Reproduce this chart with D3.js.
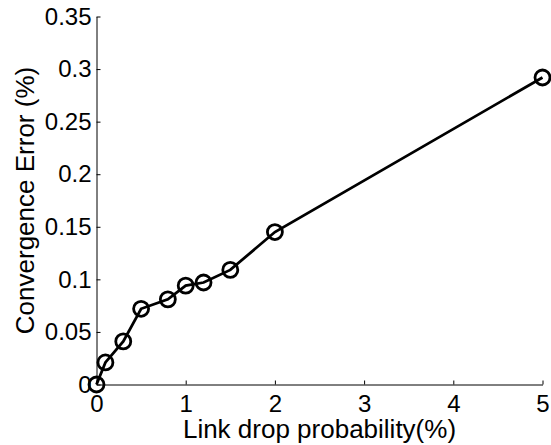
<!DOCTYPE html>
<html>
<head>
<meta charset="utf-8">
<script src="https://cdn.jsdelivr.net/npm/d3@7"></script>
<style>
  body { margin: 0; background: #fff; }
  svg { display: block; font-family: "Liberation Sans", Arial, sans-serif; }
</style>
</head>
<body>
<div class="chart"></div>
<script>
var dropProb = [0, 0.1, 0.3, 0.5, 0.8, 1.0, 1.2, 1.5, 2.0, 5.0];
var convError = [0, 0.021, 0.041, 0.072, 0.081, 0.094, 0.097, 0.109, 0.145, 0.292];
var xTicks = [0, 1, 2, 3, 4, 5];
var yTicks = [0, 0.05, 0.1, 0.15, 0.2, 0.25, 0.3, 0.35];

var W = 551, H = 445;
var margin = { top: 16.5, right: 8.5, bottom: 60.5, left: 96.5 };
var width = W - margin.left - margin.right;
var height = H - margin.top - margin.bottom;

var svg = d3.select('.chart')
  .append('svg')
    .attr('width', W)
    .attr('height', H)
  .append('g')
    .attr('transform', 'translate(' + margin.left + ', ' + margin.top + ')');

var xScale = d3.scaleLinear().domain([0, 5]).range([0, width]);
var yScale = d3.scaleLinear().domain([0, 0.35]).range([height, 0]);

// x axis, ticks pointing inward like matlab
var xAxis = d3.axisBottom(xScale)
  .tickValues(xTicks)
  .tickSizeInner(-4)
  .tickSizeOuter(0)
  .tickPadding(10)
  .tickFormat(d3.format('d'));

var gx = svg.append('g')
  .attr('transform', `translate(0, ${height})`)
  .call(xAxis);

var yAxis = d3.axisLeft(yScale)
  .tickValues(yTicks)
  .tickSizeInner(-4)
  .tickSizeOuter(0)
  .tickPadding(5)
  .tickFormat(d => d3.format('~g')(d));

var gy = svg.append('g').call(yAxis);

// d3 puts font-family/size on the axis group, override them
[gx, gy].forEach(g => g
  .attr('font-family', '"Liberation Sans", Arial, sans-serif')
  .attr('font-size', 24));
svg.selectAll('.tick text').attr('fill', '#000');
svg.selectAll('.domain').attr('stroke', '#000').attr('stroke-width', 1);
svg.selectAll('.tick line').attr('stroke', '#000');

// axis labels
svg.append('text')
  .attr('x', width / 2)
  .attr('y', height + 53.5)
  .attr('text-anchor', 'middle')
  .style('font-size', '26px')
  .text('Link drop probability(%)');

svg.append('text')
  .attr('transform', `translate(-63, ${height / 2}) rotate(-90)`)
  .attr('text-anchor', 'middle')
  .style('font-size', '26px')
  .text('Convergence Error (%)');

var data = dropProb.map((d, i) => ({ x: d, y: convError[i] }));

var line = d3.line()
  .x(d => xScale(d.x))
  .y(d => yScale(d.y));

svg.append('path')
  .datum(data)
  .attr('d', line)
  .attr('fill', 'none')
  .attr('stroke', '#000')
  .attr('stroke-width', 2.8);

svg.selectAll('.pt')
  .data(data)
  .enter()
  .append('circle')
    .attr('class', 'pt')
    .attr('cx', d => xScale(d.x))
    .attr('cy', d => yScale(d.y))
    .attr('r', 7.5)
    .attr('fill', 'none')
    .attr('stroke', '#000')
    .attr('stroke-width', 2.8);
</script>
</body>
</html>
